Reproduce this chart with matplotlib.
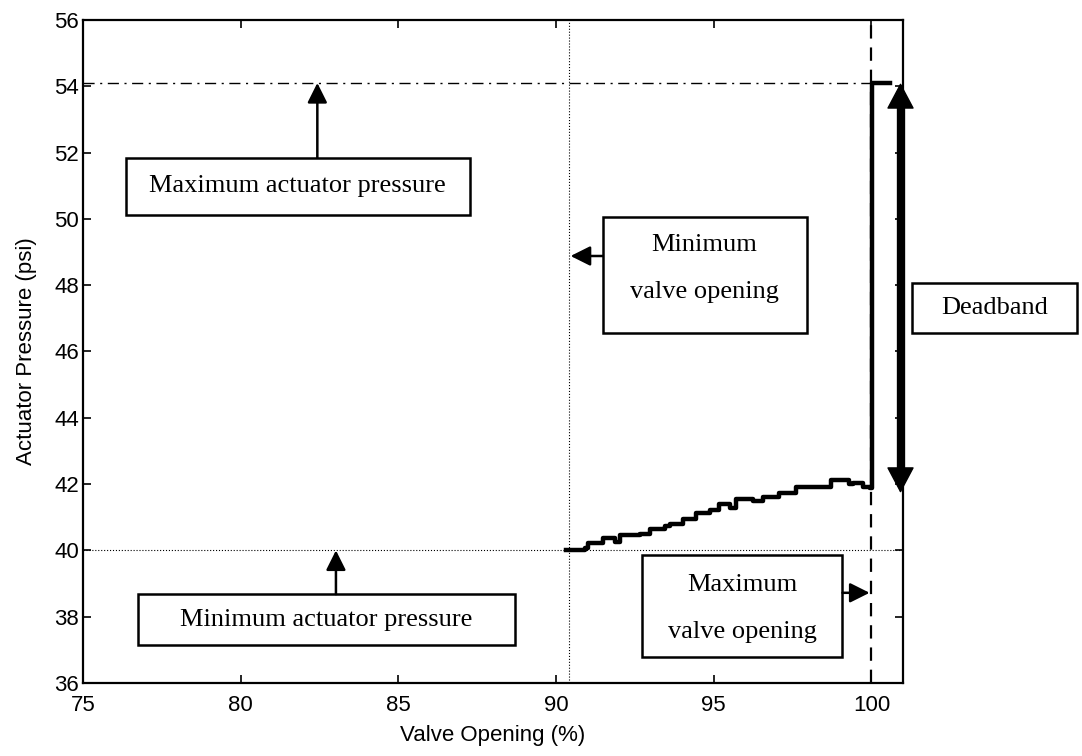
import matplotlib
matplotlib.use('Agg')
import matplotlib.pyplot as plt
from matplotlib.patches import Rectangle

valve_opening = [90.32, 90.91, 91.01, 91.38, 91.49, 91.86, 92.02, 92.65, 92.97, 93.44,
                 93.60, 94.02, 94.45, 94.87, 95.18, 95.50, 95.71, 96.24, 96.56, 97.08,
                 97.61, 98.46, 98.72, 99.09, 99.30, 99.41, 99.73, 99.96, 100.03, 100.03, 100.6]
actuator_pressure = [40.01, 40.06, 40.21, 40.21, 40.37, 40.26, 40.46, 40.49, 40.64, 40.72,
                     40.80, 40.94, 41.12, 41.22, 41.40, 41.27, 41.54, 41.50, 41.60, 41.72,
                     41.90, 41.90, 42.12, 42.12, 42.00, 42.02, 41.90, 41.87, 41.87, 54.10, 54.10]

p_max = 54.1
p_min = 40.0
v_min = 90.4
v_max = 100.0
deadband = [41.73, 54.1]

xticks = [75, 80, 85, 90, 95, 100]
yticks = [36, 38, 40, 42, 44, 46, 48, 50, 52, 54, 56]

fig = plt.figure(figsize=(10.82, 7.56), dpi=100)
ax = fig.add_axes([0.0767, 0.0966, 0.7579, 0.877])

ax.plot([75, v_max], [p_max, p_max], color='k', lw=1, linestyle='-.', dashes=[8, 4, 1.5, 4])
ax.plot([75, 101], [p_min, p_min], color='k', lw=0.8, linestyle=':')
ax.axvline(v_min, color='k', lw=0.8, linestyle=':')
ax.axvline(v_max, color='k', lw=1.6, linestyle='--', dashes=[6, 4])
ax.plot(valve_opening, actuator_pressure, color='k', lw=3.2, drawstyle='steps-post')

ax.set_xlim(75, 101)
ax.set_ylim(36, 56)
ax.set_xticks(xticks)
ax.set_yticks(yticks)
ax.tick_params(direction='in', length=6, width=1.2, top=True, right=True,
               labelsize=16, colors='k', pad=3)
ax.tick_params(axis='x', pad=9)
for lab in ax.get_xticklabels() + ax.get_yticklabels():
    lab.set_family('Liberation Sans')
for s in ax.spines.values():
    s.set_linewidth(1.6)
ax.set_xlabel('Valve Opening (%)', fontsize=16, family='Liberation Sans', labelpad=6)
ax.set_ylabel('Actuator Pressure (psi)', fontsize=16, family='Liberation Sans', labelpad=12)


def box(x0, x1, y0, y1):
    ax.add_patch(Rectangle((x0, y0), x1 - x0, y1 - y0, facecolor='white',
                           edgecolor='k', lw=1.8, clip_on=False, zorder=5))


def label(x, y, s):
    ax.text(x, y, s, ha='center', va='center', fontsize=19,
            family='Liberation Serif', zorder=6, clip_on=False)


def arrow(x0, y0, x1, y1):
    ax.annotate('', xy=(x1, y1), xytext=(x0, y0), annotation_clip=False,
                arrowprops=dict(arrowstyle='-|>,head_length=0.6,head_width=0.3',
                                color='k', lw=1.8, mutation_scale=20,
                                shrinkA=0, shrinkB=0), zorder=6)


# Maximum actuator pressure
box(76.36, 87.26, 50.12, 51.84)
label(81.81, 50.98, 'Maximum actuator pressure')
arrow(82.43, 51.84, 82.43, p_max)

# Minimum actuator pressure
box(76.74, 88.69, 37.15, 38.68)
label(82.72, 37.9, 'Minimum actuator pressure')
arrow(83.02, 38.68, 83.02, p_min)

# Minimum valve opening
box(91.48, 97.94, 46.56, 50.06)
label(94.71, 49.21, 'Minimum')
label(94.71, 47.80, 'valve opening')
arrow(91.48, 48.88, v_min + 0.06, 48.88)

# Maximum valve opening
box(92.71, 99.08, 36.78, 39.86)
label(95.9, 38.96, 'Maximum')
label(95.9, 37.54, 'valve opening')
arrow(99.08, 38.72, 99.94, 38.72)

# Deadband
box(101.3, 106.53, 46.56, 48.07)
label(103.9, 47.31, 'Deadband')
xd = 100.92
ax.plot([xd, xd], [deadband[0] + 0.6, deadband[1] - 0.6], color='k', lw=6,
        solid_capstyle='butt', clip_on=False, zorder=6)
for yt, yf in [(deadband[1], deadband[1] - 1.0), (deadband[0], deadband[0] + 1.0)]:
    ax.annotate('', xy=(xd, yt), xytext=(xd, yf), annotation_clip=False,
                arrowprops=dict(arrowstyle='-|>,head_length=0.85,head_width=0.45',
                                color='k', lw=1, mutation_scale=20,
                                shrinkA=0, shrinkB=0), zorder=6)

plt.savefig('out.png', dpi=100)
